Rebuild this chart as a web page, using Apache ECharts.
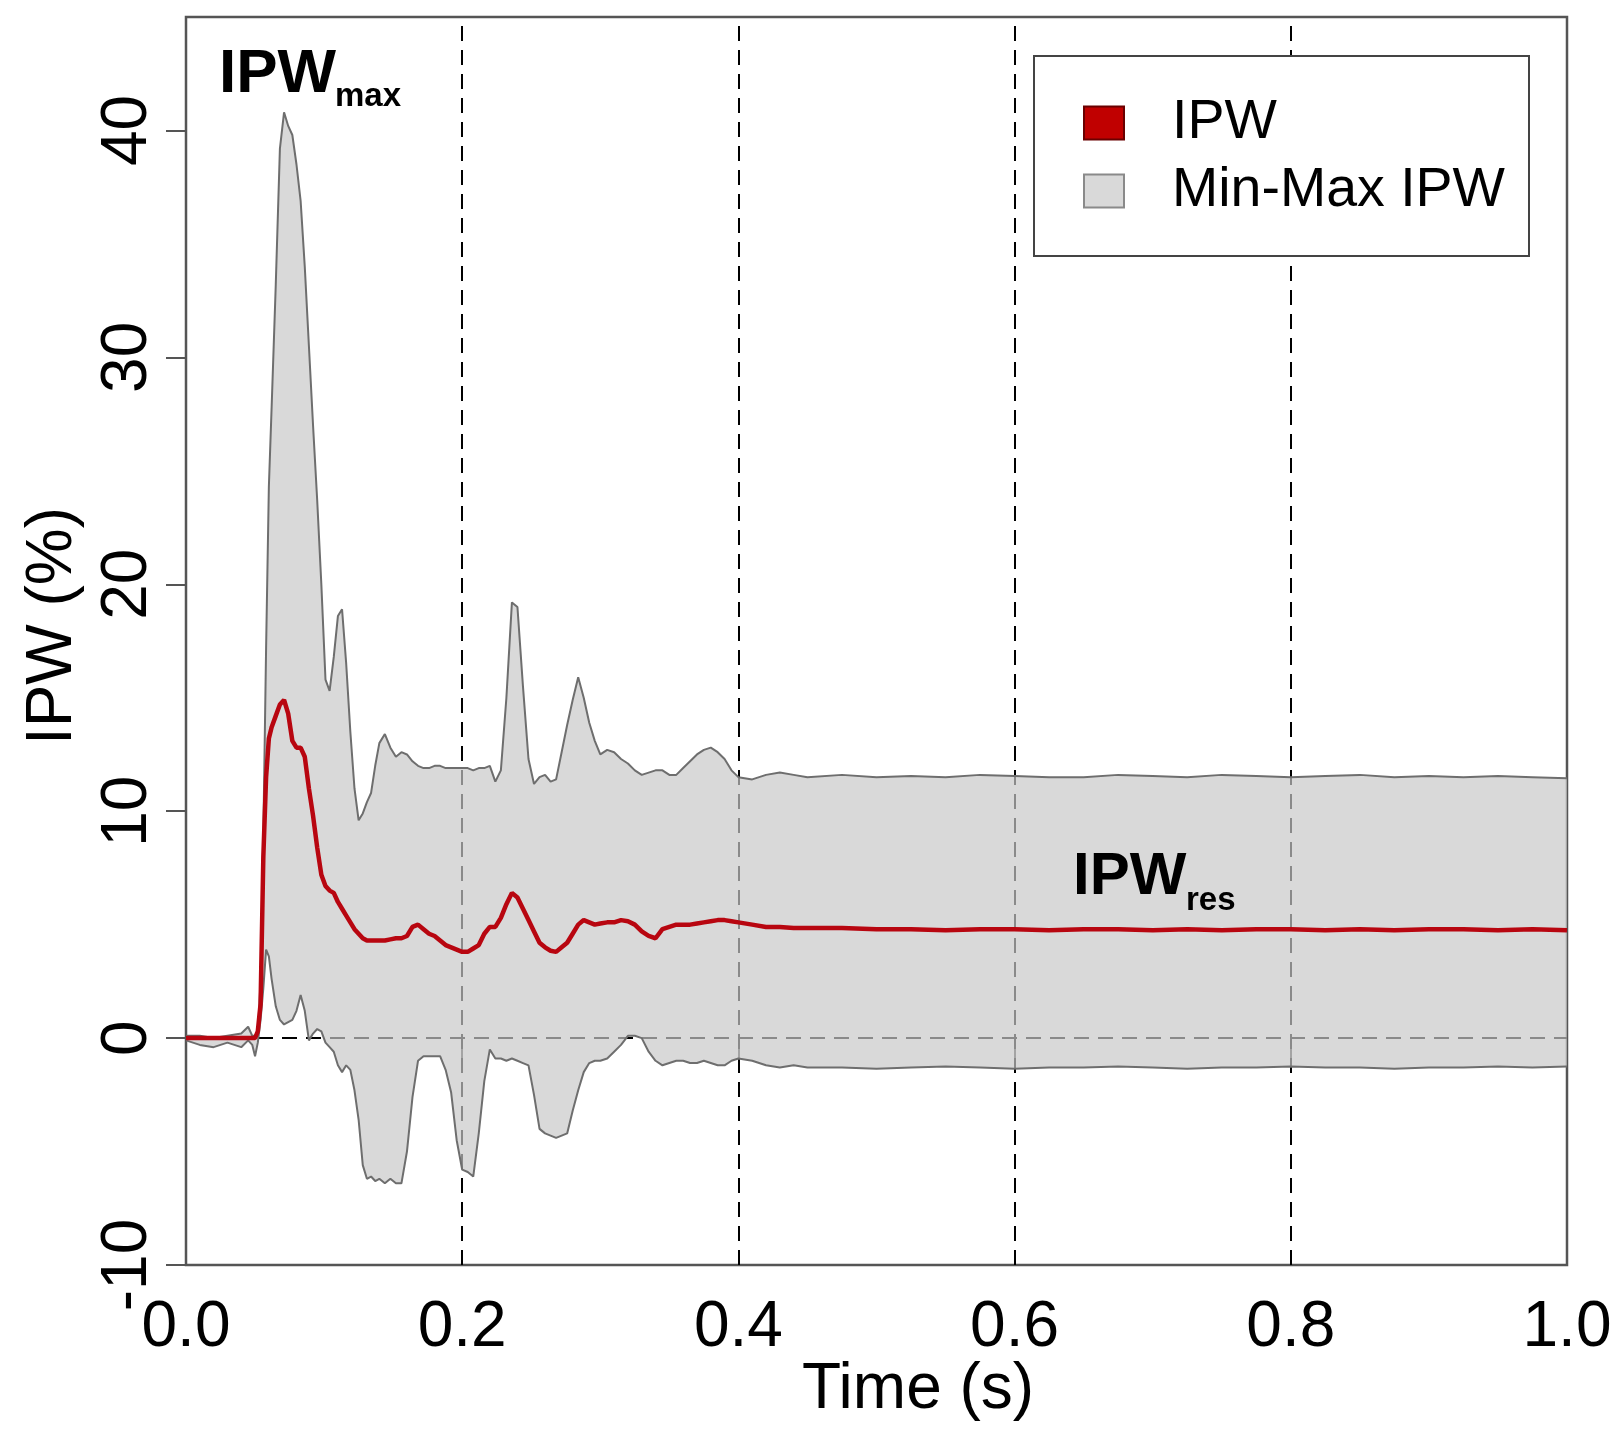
<!DOCTYPE html>
<html><head><meta charset="utf-8">
<script src="https://cdn.jsdelivr.net/npm/echarts@6/dist/echarts.min.js"></script>
<style>html,body{margin:0;padding:0;background:#fff}#c{width:1617px;height:1429px}</style>
</head><body><div id="c"></div>
<script>
// ---- data ----
const time = [
  0, 0.01, 0.02, 0.03, 0.04, 0.045, 0.048, 0.050,
  0.052, 0.054, 0.056, 0.058, 0.060,
  0.062, 0.065, 0.068, 0.071, 0.074, 0.077, 0.080, 0.083, 0.086, 0.089,
  0.092, 0.095, 0.098, 0.101, 0.104, 0.107, 0.110, 0.113, 0.116, 0.119,
  0.122, 0.125, 0.128, 0.131, 0.134, 0.137, 0.140,
  0.144, 0.148, 0.152, 0.156, 0.160, 0.164, 0.168, 0.172, 0.176, 0.180,
  0.184, 0.188, 0.192, 0.196, 0.200, 0.204, 0.208, 0.212, 0.216, 0.220,
  0.224, 0.228, 0.232, 0.236, 0.240, 0.244, 0.248, 0.252, 0.256, 0.260,
  0.264, 0.268, 0.272, 0.276, 0.280, 0.284, 0.288, 0.292, 0.296, 0.300,
  0.305, 0.310, 0.315, 0.320, 0.325, 0.330, 0.335, 0.340, 0.345, 0.350,
  0.355, 0.360, 0.365, 0.370, 0.375, 0.380, 0.385, 0.390, 0.395, 0.400,
  0.41, 0.42, 0.43, 0.44, 0.45,
  0.475, 0.500, 0.525, 0.550, 0.575, 0.600, 0.625, 0.650, 0.675, 0.700, 0.725,
  0.750, 0.775, 0.800, 0.825, 0.850, 0.875, 0.900, 0.925, 0.950, 0.975, 1.000
];
const ipw = [
  0, 0, 0, 0, 0, 0, 0, 0,
  0.3, 1.5, 8.0, 11.5, 13.2,
  13.7, 14.2, 14.7, 14.9, 14.3, 13.1, 12.8, 12.8, 12.4, 11.0,
  9.8, 8.4, 7.2, 6.7, 6.5, 6.4, 6.0, 5.7, 5.4, 5.1,
  4.8, 4.6, 4.4, 4.3, 4.3, 4.3, 4.3,
  4.3, 4.35, 4.4, 4.4, 4.5, 4.9, 5.0, 4.8, 4.6, 4.5,
  4.3, 4.1, 4.0, 3.9, 3.8, 3.8, 3.95, 4.1, 4.6, 4.9,
  4.9, 5.3, 5.9, 6.4, 6.2, 5.7, 5.2, 4.7, 4.2, 4.0,
  3.85, 3.8, 4.0, 4.2, 4.6, 5.0, 5.2, 5.1, 5.0, 5.05,
  5.1, 5.1, 5.2, 5.15, 5.0, 4.7, 4.5, 4.4, 4.8, 4.9,
  5.0, 5.0, 5.0, 5.05, 5.1, 5.15, 5.2, 5.2, 5.15, 5.1,
  5.0, 4.9, 4.9, 4.85, 4.85,
  4.85, 4.8, 4.8, 4.75, 4.8, 4.8, 4.75, 4.8, 4.8, 4.75, 4.8,
  4.75, 4.8, 4.8, 4.75, 4.8, 4.75, 4.8, 4.8, 4.75, 4.8, 4.75
];
const ipwMin = [
  -0.1, -0.3, -0.4, -0.2, -0.4, -0.1, -0.3, -0.8,
  -0.2, 0.8, 2.2, 3.9, 3.6,
  2.6, 1.4, 0.8, 0.6, 0.7, 0.8, 1.2, 1.9, 1.2, -0.1,
  0.2, 0.4, 0.3, -0.2, -0.4, -0.6, -1.2, -1.5, -1.2, -1.4,
  -2.3, -3.6, -5.6, -6.2, -6.1, -6.3, -6.2,
  -6.4, -6.2, -6.4, -6.4, -5.0, -2.6, -1.0, -0.8, -0.8, -0.8,
  -0.8, -1.4, -2.4, -4.5, -5.8, -5.9, -6.1, -4.2, -1.9, -0.5,
  -0.9, -0.9, -1.0, -0.9, -1.0, -1.1, -1.2, -2.5, -4.0, -4.2,
  -4.3, -4.4, -4.3, -4.2, -3.2, -2.3, -1.5, -1.1, -1.0, -1.0,
  -0.9, -0.6, -0.3, 0.1, 0.1, 0.0, -0.6, -1.0, -1.2, -1.1,
  -1.0, -1.0, -1.1, -1.1, -1.0, -1.1, -1.2, -1.2, -1.0, -0.9,
  -1.0, -1.2, -1.3, -1.2, -1.3,
  -1.3, -1.35, -1.3, -1.25, -1.3, -1.35, -1.3, -1.3, -1.25, -1.3, -1.35,
  -1.3, -1.3, -1.25, -1.3, -1.3, -1.35, -1.3, -1.3, -1.25, -1.3, -1.25
];
const ipwMax = [
  0.1, 0.1, 0.0, 0.1, 0.2, 0.5, 0.1, 0.1,
  0.2, 2.5, 9.0, 17.2, 24.3,
  27.8, 33.2, 39.2, 40.8, 40.2, 39.8, 38.5, 36.9, 34.0, 30.5,
  27.0, 23.7, 20.0, 15.8, 15.3, 16.8, 18.6, 18.9, 16.5, 13.5,
  11.0, 9.6, 9.9, 10.4, 10.8, 12.0, 13.0,
  13.4, 12.8, 12.4, 12.6, 12.5, 12.2, 12.0, 11.9, 11.9, 12.0,
  12.0, 11.9, 11.9, 11.9, 11.9, 11.9, 11.8, 11.9, 11.9, 12.0,
  11.3, 11.8, 15.0, 19.2, 19.0, 15.5, 12.3, 11.2, 11.5, 11.6,
  11.3, 11.4, 12.6, 13.8, 14.9, 15.9, 15.0, 13.9, 13.1, 12.5,
  12.7, 12.6, 12.3, 12.1, 11.8, 11.6, 11.7, 11.8, 11.8, 11.6,
  11.6, 11.9, 12.2, 12.5, 12.7, 12.8, 12.6, 12.3, 11.8, 11.5,
  11.4, 11.6, 11.7, 11.6, 11.5,
  11.6, 11.5, 11.55, 11.5, 11.6, 11.55, 11.5, 11.5, 11.6, 11.55, 11.5,
  11.6, 11.55, 11.5, 11.55, 11.6, 11.5, 11.55, 11.5, 11.55, 11.5, 11.45
];
const xTicks = [0, 0.2, 0.4, 0.6, 0.8, 1.0];
const yTicks = [-10, 0, 10, 20, 30, 40];
const refLinesX = [0.2, 0.4, 0.6, 0.8];
const refLineY = 0;

// ---- chart ----
const FONT = '"Liberation Sans", Arial, Helvetica, sans-serif';
const chart = echarts.init(document.getElementById('c'), null, {renderer: 'canvas'});
const pairs = arr => time.map((t, i) => [t, arr[i]]);

chart.setOption({
  animation: false,
  backgroundColor: '#fff',
  grid: {left: 186, top: 17, right: 50, bottom: 164, show: true,
         borderColor: '#555', borderWidth: 2.5, backgroundColor: 'transparent'},
  xAxis: {
    type: 'value', min: 0, max: 1, interval: 0.2,
    axisLine: {show: false},
    axisTick: {show: true, length: 20, lineStyle: {color: '#555', width: 2}, customValues: xTicks},
    axisLabel: {fontSize: 64, fontFamily: FONT, color: '#000', margin: 31,
                customValues: xTicks, formatter: v => Number(v).toFixed(1)},
    splitLine: {show: false}
  },
  yAxis: {
    type: 'value', min: -10, max: 45, interval: 10,
    axisLine: {show: false},
    axisTick: {show: true, length: 20, lineStyle: {color: '#555', width: 2}, customValues: yTicks},
    axisLabel: {fontSize: 64, fontFamily: FONT, color: '#000', margin: 26, rotate: 90,
                customValues: yTicks, formatter: v => (yTicks.indexOf(v) >= 0 ? String(v) : '')},
    splitLine: {show: false}
  },
  legend: {
    orient: 'vertical', left: 1034, top: 56, z: 20,
    padding: [39, 24, 37, 49], itemGap: 12, itemWidth: 40, itemHeight: 33,
    backgroundColor: '#fff', borderColor: '#444', borderWidth: 2,
    selectedMode: false,
    textStyle: {fontSize: 55.5, fontFamily: FONT, color: '#000', lineHeight: 54, padding: [0, 0, 0, 43]},
    data: [
      {name: 'IPW', icon: 'rect', itemStyle: {color: '#c00000', borderColor: '#6a0000', borderWidth: 2}},
      {name: 'Min-Max IPW', icon: 'rect', itemStyle: {color: '#d9d9d9', borderColor: '#8a8a8a', borderWidth: 2}}
    ]
  },
  series: [
    {
      name: 'refLines', type: 'line', data: [], z: 1, silent: true,
      markLine: {
        silent: true, symbol: 'none', animation: false, z: 1,
        label: {show: false},
        lineStyle: {color: '#000', width: 2, type: [15, 9]},
        data: refLinesX.map(v => ({xAxis: v})).concat([{yAxis: refLineY}])
      }
    },
    {
      name: 'Min-Max IPW', type: 'custom', z: 2, silent: true,
      itemStyle: {color: '#d9d9d9'},
      data: [[time[0], ipwMin[0]]],
      renderItem: function (params, api) {
        if (params.dataIndex !== 0) return;
        const pts = [];
        for (let i = 0; i < time.length; i++) pts.push(api.coord([time[i], ipwMax[i]]));
        for (let i = time.length - 1; i >= 0; i--) pts.push(api.coord([time[i], ipwMin[i]]));
        return {type: 'polygon', shape: {points: pts}, style: {fill: 'rgba(200,200,200,0.69)', stroke: 'none'}};
      }
    },
    {
      name: 'maxEdge', type: 'line', data: pairs(ipwMax), symbol: 'none', z: 3, silent: true,
      lineStyle: {color: '#6e6e6e', width: 2}, itemStyle: {color: '#6e6e6e'}
    },
    {
      name: 'minEdge', type: 'line', data: pairs(ipwMin), symbol: 'none', z: 3, silent: true,
      lineStyle: {color: '#6e6e6e', width: 2}, itemStyle: {color: '#6e6e6e'}
    },
    {
      name: 'IPW', type: 'line', data: pairs(ipw), symbol: 'none', z: 4,
      lineStyle: {color: '#b80610', width: 4.5}, itemStyle: {color: '#c00000'}
    }
  ],
  graphic: [
    {type: 'text', x: 918, y: 1390, style: {text: 'Time (s)', font: '64px ' + FONT, fill: '#000', align: 'center', verticalAlign: 'middle'}},
    {type: 'text', x: 53, y: 626, rotation: Math.PI / 2, style: {text: 'IPW (%)', font: '64px ' + FONT, fill: '#000', align: 'center', verticalAlign: 'middle'}},
    {type: 'text', x: 219, y: 75, z: 10, style: {text: 'IPW', font: 'bold 62px ' + FONT, fill: '#000', align: 'left', verticalAlign: 'middle'}},
    {type: 'text', x: 335, y: 97, z: 10, style: {text: 'max', font: 'bold 33px ' + FONT, fill: '#000', align: 'left', verticalAlign: 'middle'}},
    {type: 'text', x: 1073, y: 877, z: 10, style: {text: 'IPW', font: 'bold 60px ' + FONT, fill: '#000', align: 'left', verticalAlign: 'middle'}},
    {type: 'text', x: 1186, y: 901, z: 10, style: {text: 'res', font: 'bold 33px ' + FONT, fill: '#000', align: 'left', verticalAlign: 'middle'}}
  ]
});
</script>
</body></html>
